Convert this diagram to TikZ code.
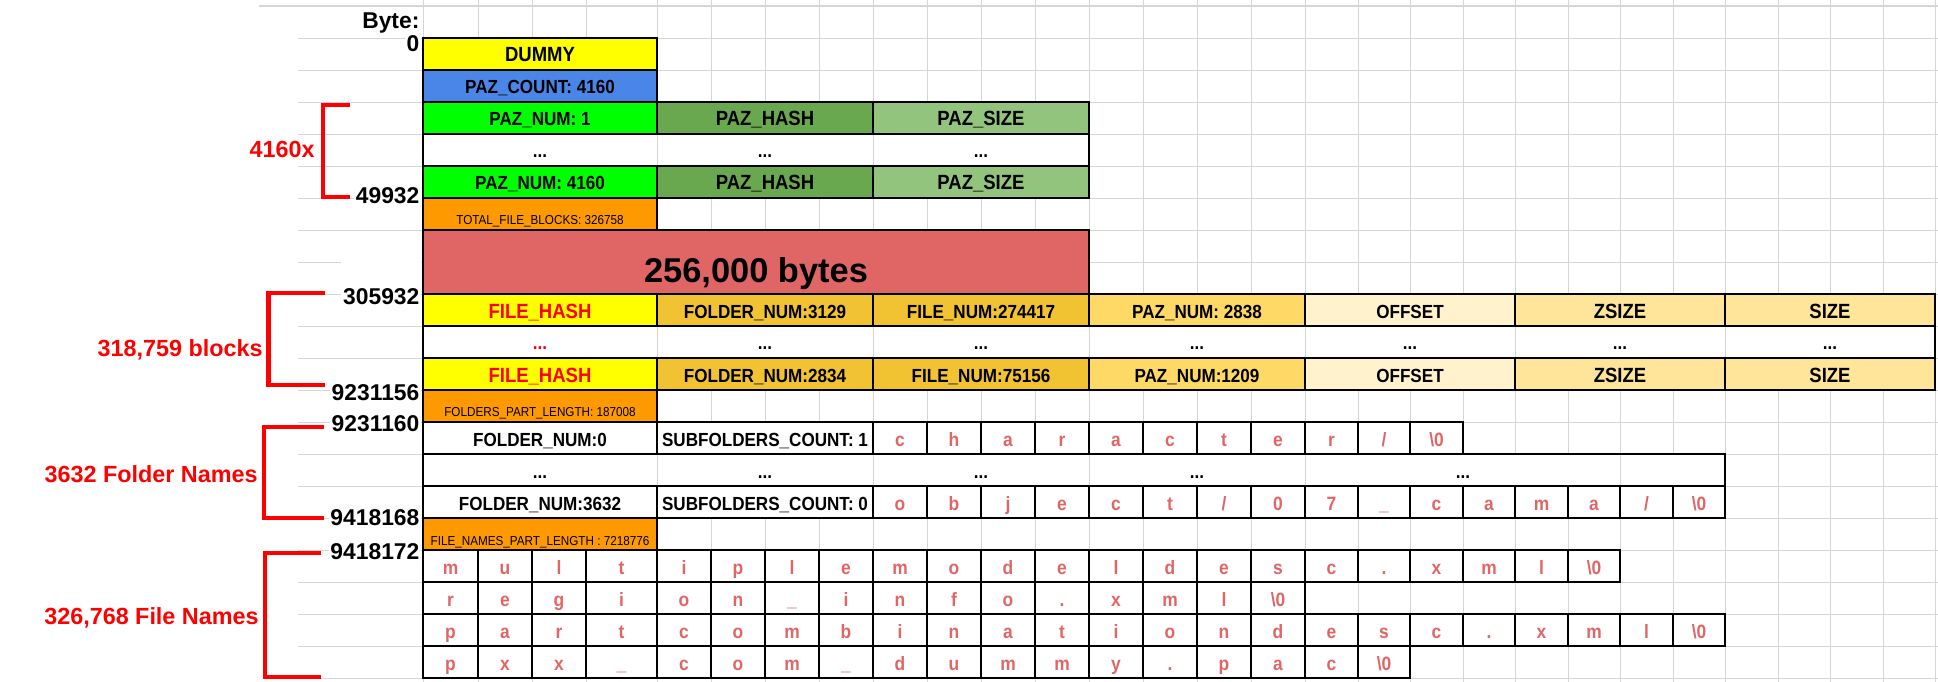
\documentclass[tikz,border=0pt]{standalone}
\usepackage{fontspec}
\setmainfont{Liberation Sans}
\newfontfamily\narrowfont{Liberation Sans}[FakeStretch=0.9]

\definecolor{dummyyellow}{HTML}{FFFF00}
\definecolor{pazblue}{HTML}{4A86E8}
\definecolor{pazgreen}{HTML}{00FF00}
\definecolor{hashgreen}{HTML}{6AA84F}
\definecolor{sizegreen}{HTML}{93C47D}
\definecolor{lenorange}{HTML}{FF9900}
\definecolor{blockred}{HTML}{E06666}
\definecolor{numgold}{HTML}{F1C232}
\definecolor{pazgold}{HTML}{FFD966}
\definecolor{offcream}{HTML}{FFF2CC}
\definecolor{sizecream}{HTML}{FFE599}
\definecolor{namered}{HTML}{E06666}
\definecolor{hashred}{HTML}{FF0000}
\definecolor{bracered}{HTML}{FF0000}
\definecolor{gridgray}{HTML}{D6D6D6}

\def\colxs{423,478,532,586,657,711,765,819,873,927,981,1035,1089,1143,1197,1251,1305,1358,1410,1463,1515,1568,1620,1673,1725,1778,1830,1883,1935}
\edef\colx{{\colxs}}
\newcommand{\nul}{\textbackslash0}

\newcommand{\field}[7][fieldtxt]{%
    \draw[cellbox, fill=#6] (#3,#5) rectangle (#4,#5+32);
    \node[#1] (#2) at ({(#3+#4)/2},#5+24) {#7};
}

\newcommand{\namecells}[4]{%
    \foreach \ch [count=\k from #2] in {#4}{
        \pgfmathsetmacro{\xa}{\colx[\k]}
        \pgfmathsetmacro{\xb}{\colx[\k+1]}
        \draw[cellbox] (\xa,#3) rectangle (\xb,#3+32);
        \node[lettertxt] (#1-\k) at ({(\xa+\xb)/2},#3+24) {\ch};
    }
}

\newcommand{\dotrow}[5]{%
    \fill[white] (#2,#1) rectangle (#3,#1+32);
    \foreach \dx in {#4}
        \draw[gridline] (\dx,#1) -- (\dx,#1+32);
    \draw[cellbox] (#2,#1) rectangle (#3,#1+32);
    \foreach \cx [count=\n] in {#5}
        \node[fieldtxt] (dots#1-\n) at (\cx,#1+24) {...};
}

\begin{document}
\begin{tikzpicture}[x=0.02cm, y=-0.02cm,
    gridline/.style={draw=gridgray, line width=0.55pt},
    cellbox/.style={draw=black, line width=0.8pt},
    fieldtxt/.style={anchor=base, inner sep=0pt, font=\narrowfont\bfseries\fontsize{10.8}{12}\selectfont},
    bigtxt/.style={fieldtxt, font=\narrowfont\bfseries\fontsize{11.7}{13}\selectfont},
    hashtxt/.style={bigtxt, text=hashred},
    smalltxt/.style={anchor=base, inner sep=0pt, yshift=-0.06cm, font=\narrowfont\fontsize{7.4}{9}\selectfont},
    lettertxt/.style={anchor=base, inner sep=0pt, text=namered, font=\narrowfont\bfseries\fontsize{11}{13}\selectfont},
    offlbl/.style={anchor=base east, fill=white, inner sep=1pt, font=\bfseries\fontsize{13}{15}\selectfont},
    bracelbl/.style={anchor=base east, inner sep=0pt, text=bracered, font=\bfseries\fontsize{13.3}{15}\selectfont},
    bracket/.style={draw=bracered, line width=2.5pt}]
    \fill[white] (0,0) rectangle (1938,682);
    \useasboundingbox (0,0) rectangle (1938,682);

    \draw[gridline, line width=1.1pt] (259,6) -- (1938,6);
    \foreach \gy in {1,...,21}
        \draw[gridline] (298,6+32*\gy) -- (1938,6+32*\gy);
    \foreach \gx in \colxs
        \draw[gridline] (\gx,0) -- (\gx,682);

    \node[offlbl] (bytehead) at (421.5,28.3) {Byte:};
    \node[offlbl] (off0) at (421.5,51.7) {0};
    \node[offlbl] (off49932) at (421.5,204) {49932};
    \node[offlbl, text height=0.9cm] (off305932) at (421.5,305) {305932};
    \node[offlbl] (off9231156) at (421.5,400.7) {9231156};
    \node[offlbl] (off9231160) at (421.5,431) {9231160};
    \node[offlbl] (off9418168) at (421.5,525) {9418168};
    \node[offlbl] (off9418172) at (421.5,559.3) {9418172};

    \field[bigtxt]{dummy}{423}{657}{38}{dummyyellow}{DUMMY}
    \field{pazcount}{423}{657}{70}{pazblue}{PAZ\_COUNT: 4160}
    \field{paznum1}{423}{657}{102}{pazgreen}{PAZ\_NUM: 1}
    \field[bigtxt]{pazhash1}{657}{873}{102}{hashgreen}{PAZ\_HASH}
    \field[bigtxt]{pazsize1}{873}{1089}{102}{sizegreen}{PAZ\_SIZE}
    \dotrow{134}{423}{1089}{657,873}{540,765,981}
    \field{paznum4160}{423}{657}{166}{pazgreen}{PAZ\_NUM: 4160}
    \field[bigtxt]{pazhash4160}{657}{873}{166}{hashgreen}{PAZ\_HASH}
    \field[bigtxt]{pazsize4160}{873}{1089}{166}{sizegreen}{PAZ\_SIZE}
    \field[smalltxt]{totalblocks}{423}{657}{198}{lenorange}{TOTAL\_FILE\_BLOCKS: 326758}

    \draw[cellbox, fill=blockred] (423,230) rectangle (1089,294);
    \node[anchor=base, inner sep=0pt, font=\bfseries\fontsize{19.6}{22}\selectfont] (blockbytes) at (756,283) {256,000 bytes};

    \field[hashtxt]{hash1}{423}{657}{294}{dummyyellow}{FILE\_HASH}
    \field{foldnum1}{657}{873}{294}{numgold}{FOLDER\_NUM:3129}
    \field{filenum1}{873}{1089}{294}{numgold}{FILE\_NUM:274417}
    \field{pazref1}{1089}{1305}{294}{pazgold}{PAZ\_NUM: 2838}
    \field{offset1}{1305}{1515}{294}{offcream}{OFFSET}
    \field[bigtxt]{zsize1}{1515}{1725}{294}{sizecream}{ZSIZE}
    \field[bigtxt]{size1}{1725}{1935}{294}{sizecream}{SIZE}
    \dotrow{326}{423}{1935}{657,873,1089,1305,1515,1725}{765,981,1197,1410,1620,1830}
    \node[fieldtxt, text=hashred] (hashdots) at (540,350) {...};
    \field[hashtxt]{hashlast}{423}{657}{358}{dummyyellow}{FILE\_HASH}
    \field{foldnumlast}{657}{873}{358}{numgold}{FOLDER\_NUM:2834}
    \field{filenumlast}{873}{1089}{358}{numgold}{FILE\_NUM:75156}
    \field{pazreflast}{1089}{1305}{358}{pazgold}{PAZ\_NUM:1209}
    \field{offsetlast}{1305}{1515}{358}{offcream}{OFFSET}
    \field[bigtxt]{zsizelast}{1515}{1725}{358}{sizecream}{ZSIZE}
    \field[bigtxt]{sizelast}{1725}{1935}{358}{sizecream}{SIZE}
    \field[smalltxt]{folderslen}{423}{657}{390}{lenorange}{FOLDERS\_PART\_LENGTH: 187008}

    \field{folder0}{423}{657}{422}{white}{FOLDER\_NUM:0}
    \field{subcount0}{657}{873}{422}{white}{SUBFOLDERS\_COUNT: 1}
    \namecells{fold0}{8}{422}{c,h,a,r,a,c,t,e,r,/,\nul}
    \dotrow{454}{423}{1725}{657,873,1089,1305,1620}{540,765,981,1197,1463}
    \field{folder3632}{423}{657}{486}{white}{FOLDER\_NUM:3632}
    \field{subcount3632}{657}{873}{486}{white}{SUBFOLDERS\_COUNT: 0}
    \namecells{fold3632}{8}{486}{o,b,j,e,c,t,/,0,7,\_,c,a,m,a,/,\nul}
    \field[smalltxt]{nameslen}{423}{657}{518}{lenorange}{FILE\_NAMES\_PART\_LENGTH : 7218776}

    \namecells{file1}{0}{550}{m,u,l,t,i,p,l,e,m,o,d,e,l,d,e,s,c,.,x,m,l,\nul}
    \namecells{file2}{0}{582}{r,e,g,i,o,n,\_,i,n,f,o,.,x,m,l,\nul}
    \namecells{file3}{0}{614}{p,a,r,t,c,o,m,b,i,n,a,t,i,o,n,d,e,s,c,.,x,m,l,\nul}
    \namecells{file4}{0}{646}{p,x,x,\_,c,o,m,\_,d,u,m,m,y,.,p,a,c,\nul}

    \draw[bracket] (350,105) -- (323,105) -- (323,197) -- (350,197);
    \draw[bracket] (324.5,293) -- (268.5,293) -- (268.5,385) -- (324.5,385);
    \draw[bracket] (323.6,426.7) -- (264,426.7) -- (264,518) -- (323.6,518);
    \draw[bracket] (321.4,553) -- (265,553) -- (265,677) -- (321.4,677);
    \node[bracelbl] (pazreps) at (315,158) {4160x};
    \node[bracelbl] (blockreps) at (263,357) {318,759 blocks};
    \node[bracelbl] (folderreps) at (258,482.7) {3632 Folder Names};
    \node[bracelbl] (filereps) at (259,624) {326,768 File Names};
\end{tikzpicture}
\end{document}
